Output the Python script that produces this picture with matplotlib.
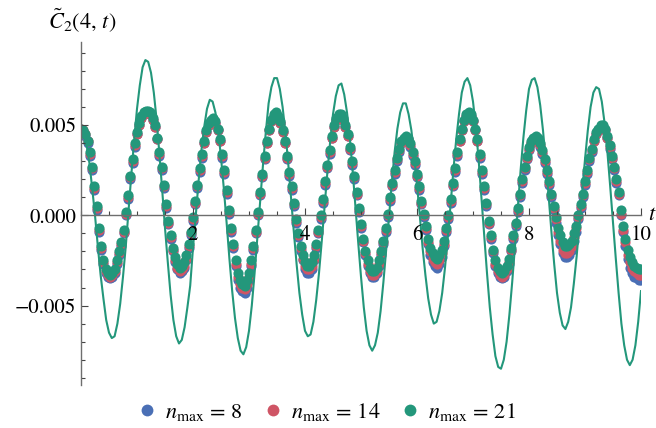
import numpy as np
import matplotlib
matplotlib.use('Agg')
import matplotlib.pyplot as plt
from matplotlib.lines import Line2D
from matplotlib.ticker import MultipleLocator, FixedLocator, FixedFormatter

# values, in units of 1e-4
# solid curve, sampled every 0.05 in t
exact = [48, 46, 39, 29, 15, 0, -17, -33, -46, -58,
         -65, -68, -67, -60, -49, -34, -17, 3, 23, 42,
         59, 72, 82, 86, 85, 79, 68, 53, 34, 14,
         -7, -26, -44, -58, -67, -71, -69, -62, -51, -39,
         -18, 0, 19, 36, 49, 59, 64, 63, 57, 47,
         32, 15, -4, -24, -42, -57, -68, -75, -77, -73,
         -64, -50, -32, -12, 8, 28, 46, 62, 71, 76,
         76, 70, 60, 46, 29, 10, -9, -27, -43, -55,
         -64, -67, -66, -59, -47, -32, -14, 5, 24, 41,
         56, 66, 72, 73, 67, 57, 43, 25, 5, -15,
         -34, -51, -64, -72, -75, -72, -65, -53, -37, -19,
         -1, 18, 35, 48, 57, 62, 62, 56, 47, 33,
         17, 0, -18, -33, -46, -55, -60, -59, -53, -43,
         -29, -12, 6, 25, 42, 56, 68, 74, 76, 72,
         63, 49, 31, 10, -11, -32, -51, -66, -78, -84,
         -85, -80, -70, -55, -37, -17, 4, 25, 43, 58,
         70, 75, 76, 71, 61, 47, 30, 11, -9, -27,
         -43, -54, -61, -63, -59, -51, -38, -23, -5, 13,
         31, 47, 60, 68, 71, 70, 63, 51, 35, 16,
         -4, -24, -43, -60, -72, -80, -83, -80, -72, -59,
         -42]

# dots, sampled every 0.04 in t
n8 = [47, 46, 44, 40, 33, 25, 14, 3, -9, -19,
      -27, -32, -34, -35, -34, -32, -27, -22, -17, -10,
      0, 9, 20, 29, 38, 45, 50, 54, 56, 57,
      57, 56, 53, 49, 42, 33, 25, 15, 4, -5,
      -13, -20, -26, -30, -32, -31, -29, -25, -18, -11,
      -3, 6, 15, 24, 32, 40, 46, 50, 52, 53,
      51, 47, 41, 32, 23, 12, 1, -9, -18, -28,
      -36, -40, -42, -43, -40, -36, -28, -19, -10, 0,
      11, 21, 31, 40, 47, 52, 55, 56, 54, 51,
      46, 40, 31, 22, 14, 5, -4, -12, -20, -25,
      -30, -32, -32, -30, -25, -18, -10, -2, 7, 17,
      26, 34, 43, 49, 53, 55, 55, 53, 49, 44,
      36, 28, 20, 11, 2, -7, -15, -22, -28, -32,
      -34, -34, -32, -28, -22, -16, -9, -1, 8, 16,
      23, 30, 35, 40, 42, 43, 42, 38, 33, 28,
      21, 14, 6, -1, -8, -16, -22, -26, -28, -29,
      -27, -23, -17, -9, -2, 7, 16, 24, 33, 41,
      47, 52, 55, 56, 55, 52, 47, 41, 32, 23,
      14, 5, -5, -13, -21, -28, -32, -34, -35, -34,
      -31, -27, -20, -13, -6, 2, 10, 18, 25, 31,
      36, 40, 42, 43, 42, 38, 34, 29, 23, 17,
      10, 3, -4, -11, -16, -21, -23, -23, -22, -19,
      -14, -9, -2, 4, 10, 17, 23, 30, 35, 41,
      45, 47, 49, 49, 47, 43, 37, 31, 25, 18,
      11, 0, -9, -17, -24, -29, -32, -34, -35, -36,
      -36]

n14 = [48, 47, 45, 41, 34, 26, 15, 4, -8, -18,
       -26, -31, -33, -34, -33, -31, -26, -21, -16, -9,
       1, 10, 21, 30, 39, 45, 50, 54, 56, 57,
       57, 56, 53, 49, 42, 34, 26, 16, 5, -4,
       -12, -19, -25, -29, -31, -30, -28, -24, -17, -10,
       -2, 7, 16, 25, 33, 40, 46, 50, 52, 53,
       51, 47, 41, 33, 24, 13, 2, -8, -17, -27,
       -34, -38, -40, -41, -38, -34, -27, -18, -9, 1,
       12, 22, 32, 40, 47, 52, 55, 56, 54, 51,
       46, 40, 32, 23, 15, 6, -3, -11, -18, -24,
       -28, -30, -30, -28, -24, -17, -9, -1, 8, 18,
       27, 35, 43, 49, 53, 55, 55, 53, 49, 44,
       37, 29, 21, 12, 3, -6, -14, -21, -27, -31,
       -33, -33, -31, -27, -21, -15, -8, 0, 9, 17,
       24, 31, 36, 40, 42, 43, 42, 39, 34, 29,
       22, 15, 7, 0, -7, -15, -20, -24, -26, -27,
       -25, -21, -16, -8, -1, 8, 17, 25, 34, 41,
       47, 52, 55, 56, 55, 52, 47, 41, 33, 24,
       15, 6, -4, -12, -20, -27, -31, -33, -34, -33,
       -30, -26, -19, -12, -5, 3, 11, 19, 26, 32,
       37, 40, 42, 43, 42, 39, 35, 30, 24, 18,
       11, 4, -2, -9, -14, -19, -21, -21, -20, -17,
       -12, -7, -1, 5, 11, 18, 24, 31, 36, 41,
       45, 47, 49, 49, 47, 43, 38, 32, 26, 19,
       12, 1, -8, -15, -22, -26, -29, -31, -32, -33,
       -33]

n21 = [48, 47, 45, 41, 35, 27, 16, 5, -7, -17,
       -25, -30, -32, -33, -32, -30, -25, -20, -15, -8,
       2, 11, 22, 31, 40, 46, 51, 55, 57, 58,
       58, 57, 54, 50, 43, 35, 27, 17, 6, -3,
       -11, -18, -23, -27, -29, -28, -26, -22, -16, -9,
       -1, 8, 17, 26, 34, 41, 47, 51, 53, 54,
       52, 48, 42, 34, 25, 14, 3, -7, -16, -25,
       -32, -36, -38, -39, -36, -32, -25, -17, -8, 2,
       13, 23, 33, 41, 48, 53, 56, 57, 55, 52,
       47, 41, 33, 24, 16, 7, -2, -10, -17, -22,
       -26, -28, -28, -26, -22, -16, -8, 0, 9, 19,
       28, 36, 44, 50, 54, 56, 56, 54, 50, 45,
       38, 30, 22, 13, 4, -5, -13, -20, -25, -29,
       -31, -31, -29, -25, -20, -14, -7, 1, 10, 18,
       25, 32, 37, 41, 43, 44, 43, 40, 35, 30,
       23, 16, 8, 1, -6, -13, -18, -21, -23, -24,
       -22, -19, -14, -7, 0, 9, 18, 26, 35, 42,
       48, 53, 56, 57, 56, 53, 48, 42, 34, 25,
       16, 7, -3, -11, -19, -25, -29, -31, -32, -31,
       -28, -24, -18, -11, -4, 4, 12, 20, 27, 33,
       38, 41, 43, 44, 43, 40, 36, 31, 25, 19,
       12, 5, -1, -7, -11, -15, -17, -17, -16, -14,
       -10, -6, 0, 6, 12, 19, 25, 32, 37, 42,
       46, 48, 50, 50, 48, 44, 39, 33, 27, 20,
       13, 3, -6, -13, -19, -23, -26, -28, -29, -30,
       -30]

labels = [r'$n_{\max}\,=\,8$', r'$n_{\max}\,=\,14$', r'$n_{\max}\,=\,21$']
colors = ['#4a6fb5', '#cf5565', '#23977b']

ytick_vals = [-0.005, 0.0, 0.005]
ytick_text = ['\u22120.005', '0.000', '0.005']
xtick_vals = [2, 4, 6, 8, 10]

plt.rcParams['mathtext.fontset'] = 'stix'
plt.rcParams['font.family'] = 'STIXGeneral'

t_line = np.linspace(0, 10, len(exact))
t_dots = np.linspace(0, 10, len(n21))
scale = 1e-4

fig = plt.figure(figsize=(6.56, 4.28), dpi=100)
ax = fig.add_axes([81/656, 43/428, 560/656, 343/428])

for vals, col in zip([n8, n14, n21], colors):
    ax.plot(t_dots, np.array(vals)*scale, 'o', color=col, markersize=7.3,
            markeredgewidth=0, zorder=2)
ax.plot(t_line, np.array(exact)*scale, '-', color=colors[2], lw=1.5, zorder=2.2)

ax.set_xlim(0, 10)
ax.set_ylim(-0.0094, 0.0096)
ax.set_axisbelow(False)  # tick labels on top of the dots

# Mathematica style axes crossing at the origin
for s in ['top', 'right']:
    ax.spines[s].set_visible(False)
ax.spines['bottom'].set_position(('data', 0))
ax.spines['left'].set_position(('data', 0))
for s in ['bottom', 'left']:
    ax.spines[s].set_color('#6e6e6e')
    ax.spines[s].set_linewidth(1.0)
    ax.spines[s].set_zorder(4)

ax.xaxis.set_major_locator(FixedLocator(xtick_vals))
ax.xaxis.set_minor_locator(MultipleLocator(0.5))
ax.yaxis.set_major_locator(FixedLocator(ytick_vals))
ax.yaxis.set_major_formatter(FixedFormatter(ytick_text))
ax.yaxis.set_minor_locator(MultipleLocator(0.001))
ax.tick_params(which='both', direction='in', color='#444444', width=0.8, labelsize=15)
ax.tick_params(which='major', length=5)
ax.tick_params(which='minor', length=3)
ax.tick_params(axis='x', pad=7)
ax.tick_params(axis='y', pad=3.5)

ax.text(1.012, 0.0, r'$t$', transform=ax.get_yaxis_transform(), fontsize=16,
        ha='left', va='center')
fig.text(82/656, 1 - 20/428, r'$\tilde{C}_2(4,\,t)$', fontsize=16, ha='center', va='center')

handles = [Line2D([], [], ls='none', marker='o', color=c, markersize=8.5,
                  markeredgewidth=0) for c in colors]
fig.legend(handles, labels, loc='center', bbox_to_anchor=(0.497, 1 - 412/428), ncol=3,
           frameon=False, fontsize=16, handletextpad=0.3, columnspacing=0.85,
           handlelength=1.0)

fig.savefig('out.png', dpi=100)
